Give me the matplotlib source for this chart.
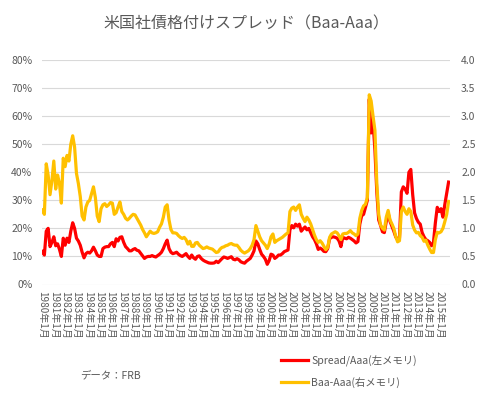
import matplotlib
matplotlib.use("Agg")
import matplotlib.pyplot as plt
from matplotlib.ticker import PercentFormatter, FormatStrFormatter
import numpy as np
import pandas as pd

plt.rcParams['font.family'] = ['Noto Sans CJK JP', 'DejaVu Sans']

# bimonthly samples (Jan, Mar, May, Jul, Sep, Nov), 1980-2015
dates = pd.date_range('1980-01-01', periods=216, freq='2MS')

# Baa-Aaa spread, percentage points (right axis)
baa_aaa = [
    1.33, 1.25, 2.15, 1.95, 1.60, 1.85,   # 1980
    2.20, 1.70, 1.95, 1.80, 1.45, 2.25,   # 1981
    2.10, 2.30, 2.20, 2.50, 2.65, 2.45,   # 1982
    1.98, 1.80, 1.57, 1.22, 1.15, 1.38,   # 1983
    1.47, 1.50, 1.62, 1.74, 1.55, 1.22,   # 1984
    1.12, 1.35, 1.42, 1.44, 1.39, 1.42,   # 1985
    1.46, 1.45, 1.25, 1.28, 1.38, 1.47,   # 1986
    1.30, 1.25, 1.18, 1.15, 1.18, 1.22,   # 1987
    1.25, 1.24, 1.18, 1.12, 1.06, 0.98,   # 1988
    0.92, 0.85, 0.90, 0.95, 0.92, 0.91,   # 1989
    0.92, 0.94, 1.02, 1.08, 1.20, 1.38,   # 1990
    1.42, 1.15, 0.98, 0.92, 0.92, 0.91,   # 1991
    0.87, 0.84, 0.82, 0.84, 0.80, 0.72,   # 1992
    0.77, 0.68, 0.68, 0.74, 0.75, 0.70,   # 1993
    0.67, 0.64, 0.65, 0.67, 0.65, 0.64,   # 1994
    0.63, 0.60, 0.57, 0.58, 0.63, 0.66,   # 1995
    0.67, 0.69, 0.70, 0.72, 0.73, 0.71,   # 1996
    0.70, 0.70, 0.66, 0.61, 0.58, 0.56,   # 1997
    0.58, 0.60, 0.64, 0.70, 0.80, 1.05,   # 1998
    0.95, 0.85, 0.78, 0.74, 0.70, 0.64,   # 1999
    0.72, 0.85, 0.90, 0.75, 0.78, 0.80,   # 2000
    0.82, 0.84, 0.87, 0.90, 0.92, 1.30,   # 2001
    1.36, 1.38, 1.32, 1.38, 1.42, 1.25,   # 2002
    1.18, 1.12, 1.20, 1.15, 1.08, 0.98,   # 2003
    0.88, 0.80, 0.75, 0.78, 0.74, 0.68,   # 2004
    0.62, 0.66, 0.84, 0.90, 0.92, 0.94,   # 2005
    0.92, 0.87, 0.80, 0.90, 0.91, 0.91,   # 2006
    0.93, 0.96, 0.92, 0.90, 0.87, 0.90,   # 2007
    1.18, 1.32, 1.40, 1.43, 1.55, 3.38,   # 2008
    3.27, 3.00, 2.75, 1.80, 1.25, 1.06,   # 2009
    1.00, 0.97, 1.20, 1.32, 1.15, 1.08,   # 2010
    1.00, 0.86, 0.76, 0.78, 1.30, 1.38,   # 2011
    1.30, 1.25, 1.35, 1.30, 1.06, 0.97,   # 2012
    0.92, 0.93, 0.87, 0.84, 0.77, 0.79,   # 2013
    0.70, 0.63, 0.57, 0.57, 0.80, 0.93,   # 2014
    0.92, 0.94, 1.00, 1.12, 1.25, 1.48,   # 2015
]

# spread divided by Aaa yield, % (left axis)
spread_pct = [
    11.8, 10.5, 19.0, 20.0, 13.5, 15.0,   # 1980
    17.0, 13.8, 14.5, 12.5, 10.0, 16.5,   # 1981
    14.0, 16.5, 15.0, 19.0, 22.0, 20.0,   # 1982
    16.5, 15.5, 14.0, 11.5, 9.5, 11.0,    # 1983
    11.5, 11.2, 12.0, 13.3, 12.0, 10.5,   # 1984
    10.0, 10.0, 12.8, 13.3, 13.5, 13.5,   # 1985
    14.5, 15.0, 13.5, 16.3, 15.5, 16.8,   # 1986
    17.0, 15.0, 13.5, 12.8, 12.0, 12.0,   # 1987
    12.5, 12.8, 12.2, 12.0, 11.1, 10.2,   # 1988
    9.3, 9.8, 10.0, 10.0, 10.3, 10.0,     # 1989
    9.8, 10.3, 10.8, 11.5, 12.8, 14.5,    # 1990
    15.8, 12.8, 11.5, 11.0, 11.2, 11.5,   # 1991
    10.8, 10.3, 10.0, 10.5, 11.0, 10.0,   # 1992
    9.3, 10.5, 9.5, 9.0, 10.0, 10.2,      # 1993
    9.3, 8.7, 8.3, 8.0, 7.7, 7.6,         # 1994
    7.6, 7.7, 8.3, 7.8, 8.5, 9.2,         # 1995
    9.8, 9.6, 9.3, 9.6, 9.9, 9.0,         # 1996
    8.8, 9.2, 8.8, 8.1, 7.8, 7.6,         # 1997
    8.3, 8.8, 9.3, 10.5, 12.0, 15.5,      # 1998
    14.5, 12.5, 10.8, 10.0, 9.0, 7.2,     # 1999
    8.5, 10.8, 10.5, 9.3, 9.8, 10.5,      # 2000
    10.5, 11.0, 11.7, 12.0, 12.3, 19.5,   # 2001
    21.0, 20.2, 21.5, 20.8, 21.5, 19.0,   # 2002
    19.8, 20.5, 19.5, 20.0, 18.5, 17.0,   # 2003
    16.0, 14.5, 12.5, 13.0, 12.5, 11.8,   # 2004
    11.7, 12.8, 16.3, 16.8, 17.0, 16.8,   # 2005
    16.5, 15.5, 13.5, 16.8, 16.5, 16.3,   # 2006
    16.8, 16.5, 16.0, 15.5, 14.8, 15.3,   # 2007
    21.5, 24.5, 25.0, 27.5, 30.0, 66.0,   # 2008
    54.0, 58.0, 48.0, 33.0, 23.0, 21.0,   # 2009
    18.8, 18.5, 22.4, 25.5, 22.5, 20.8,   # 2010
    19.0, 17.0, 15.9, 16.5, 33.0, 34.8,   # 2011
    34.0, 32.5, 40.0, 41.0, 32.0, 25.5,   # 2012
    23.5, 22.2, 21.5, 18.5, 17.0, 16.0,   # 2013
    15.6, 15.0, 13.8, 15.0, 22.0, 27.5,   # 2014
    26.0, 27.0, 24.0, 28.5, 32.5, 36.5,   # 2015
]

tick_years = list(range(1980, 2016))
tick_labels = [f"{y}年1月" for y in tick_years]

TEXT = '#595959'
GRID = '#d9d9d9'

# month index on the category axis (one category per month)
xpos = (dates.year - 1980) * 12 + (dates.month - 1)
xticks = [(y - 1980) * 12 for y in tick_years]

fig = plt.figure(figsize=(4.95, 3.96), dpi=100)
ax = fig.add_axes([42 / 495, 1 - 284.5 / 396, 408 / 495, 224.5 / 396])
ax2 = ax.twinx()

l1, = ax.plot(xpos, np.array(spread_pct) / 100, color='#ff0000', lw=2.3,
              label='Spread/Aaa(左メモリ)', solid_joinstyle='round')
l2, = ax2.plot(xpos, baa_aaa, color='#ffc000', lw=2.3,
               label='Baa-Aaa(右メモリ)', solid_joinstyle='round')

ax.set_xlim(-0.5, 431.5)
ax.set_ylim(0, 0.8)
ax2.set_ylim(0, 4.0)
ax.set_yticks(np.arange(0, 0.81, 0.1))
ax2.set_yticks(np.arange(0, 4.01, 0.5))
ax.yaxis.set_major_formatter(PercentFormatter(1.0, decimals=0))
ax2.yaxis.set_major_formatter(FormatStrFormatter('%.1f'))

ax.set_xticks(xticks)
ax.set_xticklabels(tick_labels, rotation=270, fontsize=7.2, color=TEXT,
                   va='top', ha='center')

ax.grid(axis='y', color=GRID, lw=0.8)
ax.set_axisbelow(True)
for a in (ax, ax2):
    for s in a.spines.values():
        s.set_visible(False)
    a.tick_params(length=0, labelsize=7.5, labelcolor=TEXT)
ax.tick_params(axis='y', pad=7)
ax2.tick_params(axis='y', pad=8)
ax.tick_params(axis='x', pad=5, labelsize=7.2)

fig.text(246 / 495, 1 - 24 / 396, '米国社債格付けスプレッド（Baa-Aaa）',
         ha='center', va='center', fontsize=11.5, color=TEXT)
fig.text(80 / 495, 1 - 375 / 396, 'データ：FRB', ha='left', va='center',
         fontsize=7.5, color=TEXT)

leg = fig.legend(handles=[l1, l2], loc='upper left',
                 bbox_to_anchor=(276 / 495, 1 - 350 / 396), frameon=False,
                 fontsize=7.5, handlelength=2.6, handletextpad=0.3,
                 labelspacing=1.0, borderpad=0)
for t in leg.get_texts():
    t.set_color(TEXT)

fig.savefig('out.png', dpi=100)
